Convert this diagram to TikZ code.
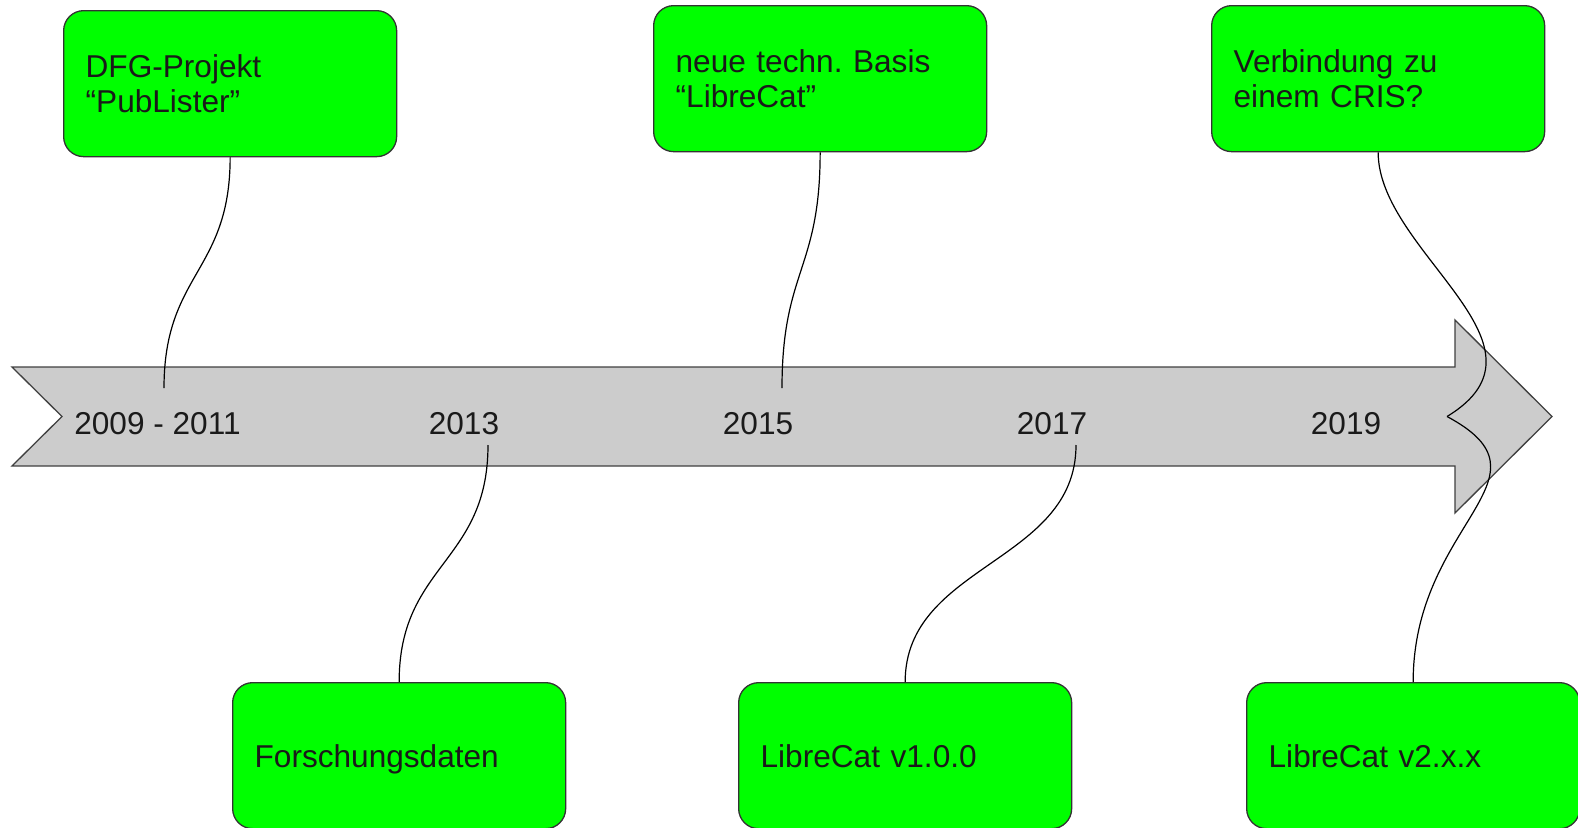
\documentclass[tikz,border=0pt]{standalone}
\usepackage{fontspec}
\setmainfont{Liberation Sans}
\frenchspacing
\definecolor{boxgreen}{HTML}{00FF00}
\definecolor{boxline}{HTML}{333333}
\definecolor{arrowgrey}{HTML}{CCCCCC}
\definecolor{arrowline}{HTML}{404040}
\definecolor{textdark}{HTML}{1A1A1A}
\begin{document}
\begin{tikzpicture}[x=1pt,y=-1pt,
  box/.style={draw=boxline, fill=boxgreen, line width=1.3pt, rounded corners=20pt,
    text width=289pt, inner xsep=22pt, inner ysep=0pt, minimum height=146pt,
    align=left, anchor=north west, font=\fontsize{31.6}{35.5}\selectfont, text=textdark},
  oneline/.style={text depth=0pt},
  year/.style={font=\fontsize{31.6}{35.5}\selectfont, text=textdark, inner sep=0pt},
  link/.style={draw=black, line width=1.2pt}]
\useasboundingbox (0,0) rectangle (1578,827);
% timeline arrow
\path[draw=arrowline, fill=arrowgrey, line width=1.3pt]
  (12,367) -- (1455,367) -- (1455,320) -- (1552,416.5) -- (1455,513) -- (1455,466)
  -- (12,466) -- (62,416.5) -- cycle;
% years
\node[year] (y1) at (157.5,424) {2009 - 2011};
\node[year] (y2) at (464,424) {2013};
\node[year] (y3) at (758,424) {2015};
\node[year] (y4) at (1052,424) {2017};
\node[year] (y5) at (1346,424) {2019};
% boxes
\node[box] (b1) at (63,10) {DFG-Projekt\\“PubLister”};
\node[box] (b2) at (653,5) {neue techn. Basis\\“LibreCat”};
\node[box] (b3) at (1211,5) {Verbindung zu\\einem CRIS?};
\node[box,oneline] (b4) at (232,682) {Forschungsdaten};
\node[box,oneline] (b5) at (738,682) {LibreCat v1.0.0};
\node[box,oneline] (b6) at (1246,682) {LibreCat v2.x.x};
% connector ends
\coordinate (c1) at (164,388);
\coordinate (c2) at (782,388);
\coordinate (c4) at (488,445);
\coordinate (c5) at (1076,445);
\coordinate (cusp) at (1447,416.5);
% connectors
\draw[link] (b1.south) .. controls +(0,115) and +(0,-115) .. (c1);
\draw[link] (b2.south) .. controls +(0,118) and +(0,-118) .. (c2);
\draw[link] (b4.north) .. controls +(0,-118) and +(0,118) .. (c4);
\draw[link] (b5.north) .. controls +(0,-118) and +(0,118) .. (c5);
\draw[link] (b3.south) .. controls +(0,100) and (1565,345) .. (cusp);
\draw[link] (b6.north) .. controls +(0,-160) and (1562,478) .. (cusp);
\end{tikzpicture}
\end{document}
